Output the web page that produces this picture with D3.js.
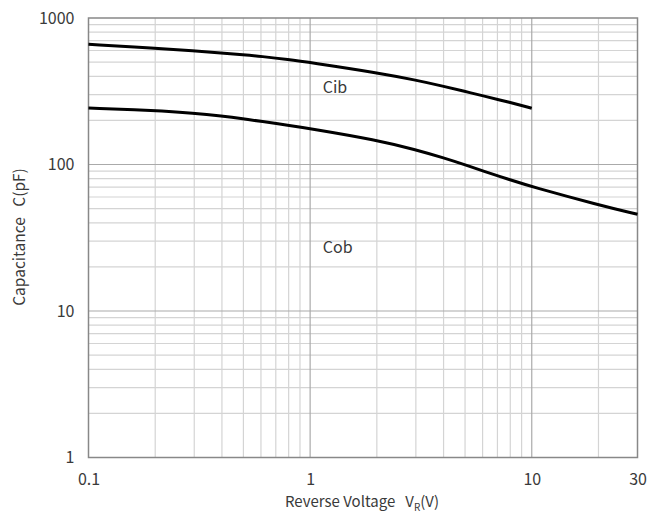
<!DOCTYPE html>
<html>
<head>
<meta charset="utf-8">
<script src="https://cdn.jsdelivr.net/npm/d3@7"></script>
<style>
    body { margin: 0; background: #fff; }
    text { font-family: "Noto Sans CJK SC", "Noto Sans", sans-serif; fill: #3a3a3a; }
</style>
</head>
<body>
<div id="chart"></div>
<script>
// reverse voltage (V)
const voltage = [0.1, 0.2, 0.3, 0.4, 0.5, 0.6, 0.8, 1, 2, 3, 4, 5, 6, 8, 10, 20, 30];
// input capacitance, only measured up to 10V
const cib = [661, 622, 596, 576, 561, 547, 521, 497, 424, 377, 342, 315, 295, 265, 242];
// output capacitance
const cob = [243, 234, 224, 214, 205, 197, 185, 176, 147, 126, 111, 99.5, 90.5, 78.5, 70.5, 53, 45.7];

const xTicks = [0.1, 1, 10, 30];
const xMinor = [0.2, 0.3, 0.4, 0.5, 0.6, 0.7, 0.8, 0.9, 2, 3, 4, 5, 6, 7, 8, 9, 20];
const yTicks = [1, 10, 100, 1000];
const yMinor = [2, 3, 4, 5, 6, 7, 8, 9, 20, 30, 40, 50, 60, 70, 80, 90, 200, 300, 400, 500, 600, 700, 800, 900];

let w = 664, h = 523;
let margin = {left: 88.5, right: 26.5, top: 18, bottom: 65.5};

let svg = d3.select('#chart')
    .append('svg')
    .attr('width', w)
    .attr('height', h);

let x = d3.scaleLog().domain([0.1, 30]).range([margin.left, w - margin.right]);
let y = d3.scaleLog().domain([1, 1000]).range([h - margin.bottom, margin.top]);

// grid lines - minor first, decades on top
svg.append('g').selectAll('line')
    .data(xMinor)
    .enter()
    .append('line')
    .attr('x1', d => x(d)).attr('x2', d => x(d))
    .attr('y1', y(1)).attr('y2', y(1000))
    .attr('stroke', '#d4d4d4').attr('stroke-width', 1.2);

svg.append('g').selectAll('line')
    .data(yMinor)
    .enter()
    .append('line')
    .attr('y1', d => y(d)).attr('y2', d => y(d))
    .attr('x1', x(0.1)).attr('x2', x(30))
    .attr('stroke', '#d4d4d4').attr('stroke-width', 1.2);

svg.append('g').selectAll('line')
    .data([1, 10])
    .enter()
    .append('line')
    .attr('x1', d => x(d)).attr('x2', d => x(d))
    .attr('y1', y(1)).attr('y2', y(1000))
    .attr('stroke', '#aaa').attr('stroke-width', 1.2);

svg.append('g').selectAll('line')
    .data([10, 100])
    .enter()
    .append('line')
    .attr('y1', d => y(d)).attr('y2', d => y(d))
    .attr('x1', x(0.1)).attr('x2', x(30))
    .attr('stroke', '#aaa').attr('stroke-width', 1.2);

svg.append('rect')
    .attr('x', x(0.1)).attr('y', y(1000))
    .attr('width', x(30) - x(0.1)).attr('height', y(1) - y(1000))
    .attr('fill', 'none')
    .attr('stroke', '#888').attr('stroke-width', 1.5);

// tick labels
let xAxis = d3.axisBottom(x).tickValues(xTicks).tickSize(0).tickPadding(16).tickFormat(d3.format('~g'));
let xg = svg.append('g').attr('transform', 'translate(0,' + y(1) + ')').call(xAxis);
xg.select('.domain').remove();
xg.selectAll('text').style('font-size', '16px').attr('fill', '#3a3a3a');

let yAxis = d3.axisLeft(y).tickValues(yTicks).tickSize(0).tickPadding(14).tickFormat(d3.format('~g'));
let yg = svg.append('g').attr('transform', 'translate(' + x(0.1) + ',0)').call(yAxis);
yg.select('.domain').remove();
yg.selectAll('text').style('font-size', '16px').attr('fill', '#3a3a3a');

// curves
let line = d3.line()
    .x(d => x(d[0]))
    .y(d => y(d[1]))
    .curve(d3.curveBasis);

svg.append('path')
    .datum(cib.map((v, i) => [voltage[i], v]))
    .attr('d', line)
    .attr('fill', 'none').attr('stroke', '#000').attr('stroke-width', 3);

svg.append('path')
    .datum(cob.map((v, i) => [voltage[i], v]))
    .attr('d', line)
    .attr('fill', 'none').attr('stroke', '#000').attr('stroke-width', 3);

svg.append('text')
    .attr('x', x(1.14)).attr('y', y(310))
    .style('font-size', '16px')
    .text('Cib');

svg.append('text')
    .attr('x', x(1.14)).attr('y', y(25))
    .style('font-size', '16px')
    .text('Cob');

// axis titles
let xt = svg.append('text')
    .attr('x', 362).attr('y', 507)
    .attr('text-anchor', 'middle')
    .style('font-size', '15px');
xt.append('tspan').text('Reverse Voltage\u00a0\u00a0\u00a0V');
xt.append('tspan').attr('dy', 4).style('font-size', '10px').text('R');
xt.append('tspan').attr('dy', -4).text('(V)');

svg.append('text')
    .attr('transform', 'translate(25,' + 237 + ') rotate(-90)')
    .attr('text-anchor', 'middle')
    .style('font-size', '15.5px')
    .text('Capacitance\u00a0\u00a0\u00a0C(pF)');
</script>
</body>
</html>
